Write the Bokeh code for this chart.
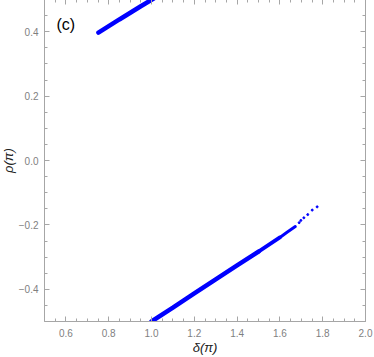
from bokeh.plotting import figure
from bokeh.models import LinearAxis, FixedTicker, Range1d, Label
from bokeh.embed import file_html
from bokeh.resources import INLINE

# ---- data ----
lower_x = [1.00, 1.10, 1.20, 1.30, 1.40, 1.50]
lower_y = [-0.500, -0.457, -0.413, -0.369, -0.326, -0.283]
lower_mid_x = [1.50, 1.60]
lower_mid_y = [-0.283, -0.239]
lower_end_x = [1.60, 1.635, 1.672]
lower_end_y = [-0.239, -0.222, -0.205]
tail_x = [1.690, 1.698, 1.712, 1.730, 1.751, 1.774]
tail_y = [-0.193, -0.186, -0.178, -0.168, -0.154, -0.144]
upper_x = [0.752, 0.85, 0.95, 1.010]
upper_y = [0.397, 0.438, 0.479, 0.503]

x_ticks = [0.6, 0.8, 1.0, 1.2, 1.4, 1.6, 1.8, 2.0]
x_tick_labels = ["0.6", "0.8", "1.0", "1.2", "1.4", "1.6", "1.8", "2.0"]
x_frame_major = [0.6, 0.8, 1.0, 1.2, 1.4, 1.6, 1.8]
x_minor = [0.55, 0.65, 0.7, 0.75, 0.85, 0.9, 0.95, 1.05, 1.1,
           1.15, 1.25, 1.3, 1.35, 1.45, 1.5, 1.55, 1.65, 1.7,
           1.75, 1.85, 1.9, 1.95]
y_ticks = [-0.4, -0.2, 0.0, 0.2, 0.4]
y_tick_labels = ["\u22120.4", "\u22120.2", "0.0", "0.2", "0.4"]
y_minor = [-0.45, -0.35, -0.3, -0.25, -0.15, -0.1, -0.05,
           0.05, 0.1, 0.15, 0.25, 0.3, 0.35, 0.45]

AX = "#a6a6a6"
LB = "#7f7f7f"
FONT = "Liberation Sans"

p = figure(frame_width=321, frame_height=322,
           x_range=Range1d(0.5, 2.0), y_range=Range1d(-0.5, 0.5),
           output_backend="svg", toolbar_location=None,
           min_border_left=0, min_border_right=9, min_border_top=0, min_border_bottom=0,
           margin=(-1, 0, 0, -3), x_axis_location=None, y_axis_location=None)
p.xgrid.visible = False
p.ygrid.visible = False
p.outline_line_color = AX
p.background_fill_color = "white"
p.border_fill_color = "white"


def style(ax):
    ax.axis_line_color = AX
    ax.major_tick_line_color = AX
    ax.minor_tick_line_color = AX
    ax.major_tick_in = 5
    ax.major_tick_out = 0
    ax.minor_tick_in = 3
    ax.minor_tick_out = 0
    ax.major_label_text_color = LB
    ax.major_label_text_font = FONT
    ax.major_label_text_font_size = "10px"


bx = LinearAxis(ticker=FixedTicker(ticks=x_ticks, minor_ticks=x_minor), axis_label="\u03b4(\u03c0)")
style(bx)
bx.major_label_overrides = dict(zip(x_ticks, x_tick_labels))
bx.major_label_standoff = 7
bx.axis_label_standoff = 0
bx.axis_label_text_font = FONT
bx.axis_label_text_font_size = "13px"
bx.axis_label_text_font_style = "italic"
bx.axis_label_text_color = "#222222"
p.add_layout(bx, "below")

ly = LinearAxis(ticker=FixedTicker(ticks=y_ticks, minor_ticks=y_minor), axis_label="\u03c1(\u03c0)")
style(ly)
ly.major_label_overrides = dict(zip(y_ticks, y_tick_labels))
ly.major_label_standoff = 6
ly.axis_label_standoff = 0
ly.axis_label_text_font = FONT
ly.axis_label_text_font_size = "13px"
ly.axis_label_text_font_style = "italic"
ly.axis_label_text_color = "#222222"
p.add_layout(ly, "left")

# frame axes on top and right: ticks only, no labels (majors drawn as longer minor ticks)
for loc, majors, minors in (("above", x_frame_major, x_minor), ("right", y_ticks, y_minor)):
    a1 = LinearAxis(ticker=FixedTicker(ticks=[], minor_ticks=majors))
    style(a1)
    a1.minor_tick_in = 5
    a1.major_label_standoff = 0
    p.add_layout(a1, loc)
    a2 = LinearAxis(ticker=FixedTicker(ticks=[], minor_ticks=minors))
    style(a2)
    a2.major_label_standoff = 0
    p.add_layout(a2, loc)

blue = "#0000ff"
p.line(lower_x, lower_y, line_color=blue, line_width=4.5, line_cap="round")
p.line(lower_mid_x, lower_mid_y, line_color=blue, line_width=3.8, line_cap="round")
p.line(lower_end_x, lower_end_y, line_color=blue, line_width=3, line_cap="round")
p.scatter(tail_x, tail_y, size=2, color=blue)
p.line(upper_x, upper_y, line_color=blue, line_width=4.5, line_cap="round")

p.add_layout(Label(x=0.556, y=0.4224, text="(c)", text_font=FONT, text_font_size="16px",
                   text_baseline="middle", text_color="black"))

open("out.html", "w").write(file_html(p, INLINE))
